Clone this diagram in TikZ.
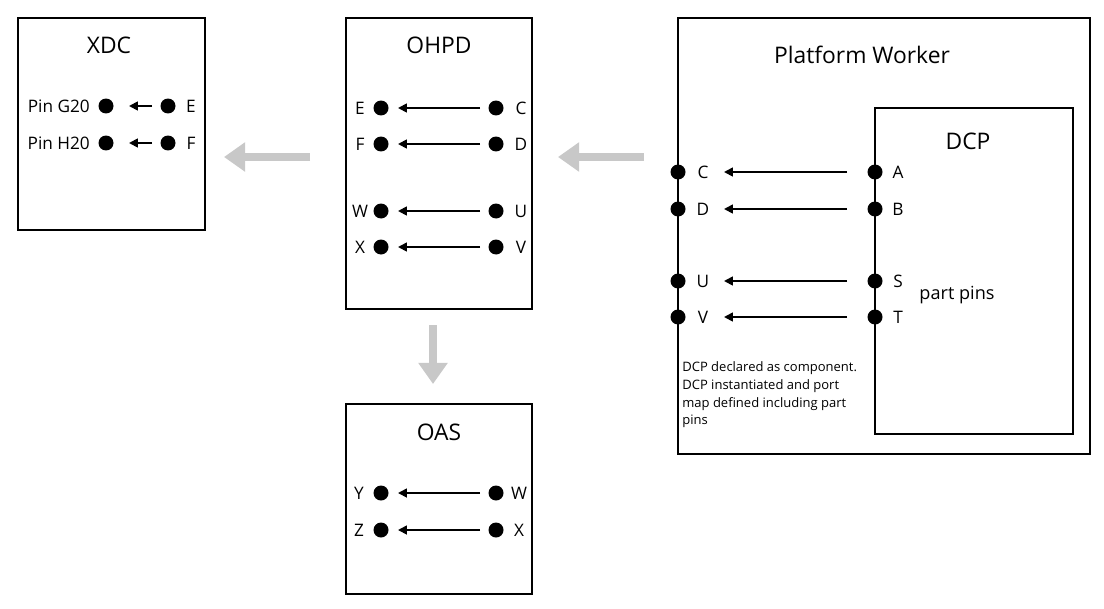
\documentclass[tikz,border=0pt]{standalone}
\usepackage{fontspec}
\setmainfont{Open Sans}
\usetikzlibrary{arrows.meta}
\begin{document}
\begin{tikzpicture}[x=0.02cm,y=-0.02cm,
  box/.style={draw,line width=0.6pt},
  dot/.style={circle,fill=black,inner sep=0pt,minimum size=0.3cm},
  ttl/.style={font=\fontsize{13}{15}\selectfont},
  lbl/.style={font=\fontsize{9.8}{11}\selectfont},
  conn/.style={-{Triangle[length=5pt,width=5pt]},line width=1pt},
  big/.style={-{Triangle[length=12pt,width=16pt]},line width=5pt,draw={rgb,255:red,200;green,200;blue,200}}]
\useasboundingbox (0,0) rectangle (1104,608);
\draw[box] (18,18) rectangle (205,230);
\draw[box] (346,18) rectangle (532,309);
\draw[box] (678,18) rectangle (1090,454);
\draw[box] (875,108) rectangle (1073,434);
\draw[box] (346,404) rectangle (532,594);
\node[ttl] (txdc) at (109,45) {XDC};
\node[ttl] (tohpd) at (439,45) {OHPD};
\node[ttl] (tpw) at (862,55) {Platform Worker};
\node[ttl] (tdcp) at (968,141) {DCP};
\node[ttl] (toas) at (439,432) {OAS};
% XDC
\foreach \n/\y/\l/\r in {g/106/Pin G20/E,h/143/Pin H20/F}{
  \node[dot] (xl\n) at (106,\y) {};
  \node[dot] (xr\n) at (168,\y) {};
  \node[lbl,anchor=east] (xll\n) at (96,\y) {\l};
  \node[lbl] (xrl\n) at (191,\y) {\r};
  \draw[conn] (152,\y) coordinate (xa\n) -- (129,\y) coordinate (xb\n);
}
% OHPD
\foreach \n/\y/\l/\r in {a/108/E/C,b/144/F/D,c/211/W/U,d/247/X/V}{
  \node[dot] (ol\n) at (381,\y) {};
  \node[dot] (or\n) at (496,\y) {};
  \node[lbl] (oll\n) at (360,\y) {\l};
  \node[lbl] (orl\n) at (521,\y) {\r};
  \draw[conn] (480,\y) coordinate (oa\n) -- (398,\y) coordinate (ob\n);
}
% PW
\foreach \n/\y/\l/\r in {a/172/C/A,b/209/D/B,c/281/U/S,d/317/V/T}{
  \node[dot] (pl\n) at (678,\y) {};
  \node[dot] (pr\n) at (875,\y) {};
  \node[lbl] (pll\n) at (703,\y) {\l};
  \node[lbl] (prl\n) at (898,\y) {\r};
  \draw[conn] (847,\y) coordinate (pa\n) -- (724,\y) coordinate (pb\n);
}
\node[lbl,font=\fontsize{10.3}{12}\selectfont] (pp) at (957,295) {part pins};
\node[anchor=north west,align=left,inner sep=0pt,font=\fontsize{7.4}{10.2}\selectfont] (note) at (682,361)
 {DCP declared as component.\\DCP instantiated and port\\map defined including part\\pins};
% OAS
\foreach \n/\y/\l/\r in {a/493/Y/W,b/530/Z/X}{
  \node[dot] (sl\n) at (381,\y) {};
  \node[dot] (sr\n) at (496,\y) {};
  \node[lbl] (sll\n) at (359,\y) {\l};
  \node[lbl] (srl\n) at (519,\y) {\r};
  \draw[conn] (480,\y) coordinate (sa\n) -- (398,\y) coordinate (sb\n);
}
% big arrows
\coordinate (g1) at (310,157); \coordinate (g2) at (224,157);
\coordinate (g3) at (644,157); \coordinate (g4) at (558,157);
\coordinate (g5) at (433,325); \coordinate (g6) at (433,384);
\draw[big] (g1) -- (g2);
\draw[big] (g3) -- (g4);
\draw[big] (g5) -- (g6);
\end{tikzpicture}
\end{document}
